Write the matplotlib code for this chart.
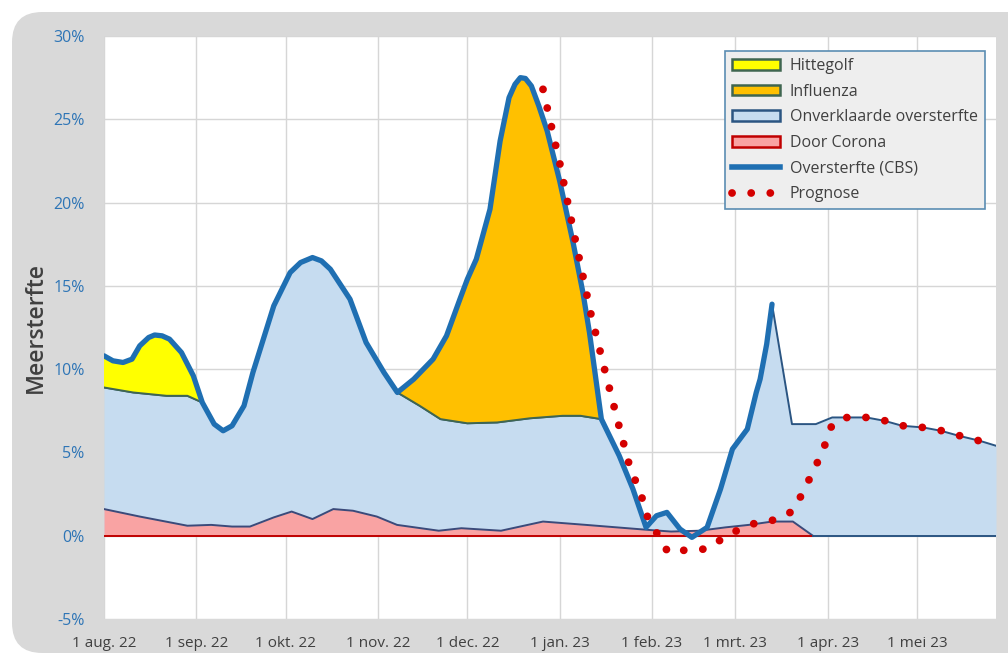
import numpy as np
import pandas as pd
import matplotlib
matplotlib.use("Agg")
import matplotlib.pyplot as plt
from matplotlib.patches import FancyBboxPatch, Patch
from matplotlib.lines import Line2D

plt.rcParams['font.family'] = ['Open Sans', 'DejaVu Sans']

start = pd.Timestamp("2022-08-01")
tick_dates = ["2022-08-01", "2022-09-01", "2022-10-01", "2022-11-01", "2022-12-01",
              "2023-01-01", "2023-02-01", "2023-03-01", "2023-04-01", "2023-05-01"]
tick_labels = ["1 aug. 22", "1 sep. 22", "1 okt. 22", "1 nov. 22", "1 dec. 22",
               "1 jan. 23", "1 feb. 23", "1 mrt. 23", "1 apr. 23", "1 mei 23"]
x_end = 299.5  # days after 1 aug 22 (about 27 mei 23)

# Oversterfte (CBS), days since 1 aug 22 and percent
cbs_days = [0, 3, 6.4, 9.4, 12, 15, 17, 19.5, 22, 26, 30, 33, 37, 40, 43, 47, 50, 53.5, 57,
            62.5, 66, 70, 73, 76, 82.6, 88, 94, 98.5, 104, 110.5, 115, 119.5, 122, 125, 129.6,
            133, 136, 138, 139.8, 141.5, 143.5, 146, 148.8, 153, 157.5, 160.8, 163, 167, 173,
            177.6, 182, 185.5, 189, 193.4, 197.4, 202.5, 207, 211, 216, 219, 220.3, 222.5,
            224.3]
cbs_pct = [10.8, 10.5, 10.4, 10.6, 11.4, 11.9, 12.05, 12.0, 11.8, 11.0, 9.6, 8.0, 6.7, 6.3,
           6.6, 7.8, 9.8, 11.8, 13.8, 15.8, 16.4, 16.7, 16.5, 16.0, 14.2, 11.6, 9.8, 8.6, 9.4,
           10.6, 12.0, 14.2, 15.4, 16.6, 19.6, 23.7, 26.3, 27.1, 27.5, 27.45, 27.0, 25.8, 24.3,
           21.3, 17.6, 14.6, 12.2, 7.0, 4.8, 2.8, 0.5, 1.2, 1.4, 0.4, -0.1, 0.5, 2.8, 5.2, 6.4,
           8.6, 9.4, 11.5, 13.9]

# lower edge of the Hittegolf band
hitte_days = [0, 9.8, 21, 28, 33]
hitte_base = [8.9, 8.6, 8.4, 8.4, 8.0]

# lower edge of the Influenza band
influenza_days = [98.5, 106, 113, 122, 132, 143, 154, 160, 167]
influenza_base = [8.6, 7.8, 7.0, 6.75, 6.8, 7.05, 7.2, 7.2, 7.0]

# unexplained excess after the last CBS week
tail_days = [224.3, 231, 239, 244.5, 249.5, 256, 262, 268, 275, 281, 287, 294, 299.5]
tail_pct = [13.9, 6.7, 6.7, 7.1, 7.1, 7.1, 6.9, 6.6, 6.5, 6.3, 6.0, 5.7, 5.4]

# Door Corona
corona_days = [0, 12, 28, 36, 43, 49, 57, 63, 70, 77, 83.6, 91.6, 98.4, 112.4, 120, 133.3,
               147.4, 161.8, 182.7, 190.4, 200, 208.6, 216.5, 224.3, 231.3, 238]
corona_pct = [1.6, 1.15, 0.6, 0.65, 0.55, 0.55, 1.1, 1.45, 1.0, 1.6, 1.5, 1.15, 0.65, 0.3,
              0.45, 0.3, 0.85, 0.65, 0.35, 0.25, 0.3, 0.5, 0.65, 0.85, 0.85, 0.0]

# Prognose
prog_days = [147.4, 153.1, 158.2, 163.5, 168.2, 172.9, 176.3, 181.0, 182.7, 186.0, 189.4,
             195.8, 202.1, 207.5, 212.9, 219.3, 225.3, 231.0, 234.4, 237.1, 239.8, 242.4,
             244.5, 249.5, 255.9, 262.3, 268.3, 275.0, 281.4, 287.4, 293.8, 299.5]
prog_pct = [26.8, 22.3, 17.8, 13.3, 9.9, 6.6, 4.3, 2.1, 1.0, 0.05, -1.0, -0.85, -0.8, -0.2,
            0.35, 0.8, 0.95, 1.45, 2.5, 3.5, 4.5, 5.6, 6.7, 7.1, 7.1, 6.9, 6.6, 6.5, 6.3, 6.0,
            5.7, 5.4]

c_yellow = "#ffff00"
c_influenza = "#ffc000"
c_unexpl = "#c6dcf0"
c_corona = "#f9a3a3"
c_cbs = "#1f6fb2"
c_prog = "#d40000"
c_band_edge = "#3f6650"
c_area_edge = "#2b5582"

cbs_d = np.array(cbs_days)
cbs_p = np.array(cbs_pct)

fig = plt.figure(figsize=(10.08, 6.55), dpi=100)
fig.patch.set_facecolor("white")
frame = FancyBboxPatch((12 / 1008, 2 / 655), 1.2, 641 / 655,
                       boxstyle="round,pad=0,rounding_size=0.03",
                       transform=fig.transFigure, facecolor="#d9d9d9",
                       edgecolor="none", mutation_aspect=1008 / 655, zorder=-10)
fig.add_artist(frame)

ax = fig.add_axes([104 / 1008, 36 / 655, 892 / 1008, 583 / 655])
ax.set_zorder(1)
ax.set_facecolor("white")
for s in ax.spines.values():
    s.set_visible(False)

# top edge of the unexplained area
in_mid1 = (cbs_d > hitte_days[-1]) & (cbs_d < influenza_days[0])
in_mid2 = (cbs_d > influenza_days[-1]) & (cbs_d < tail_days[0])
top_days = np.concatenate([hitte_days, cbs_d[in_mid1], influenza_days, cbs_d[in_mid2], tail_days])
top_pct = np.concatenate([hitte_base, cbs_p[in_mid1], influenza_base, cbs_p[in_mid2], tail_pct])

ax.fill_between(top_days, 0, top_pct, color=c_unexpl, lw=0, zorder=2)
ax.plot(top_days, top_pct, color=c_area_edge, lw=1.4, zorder=3)

# Hittegolf band
seg = (cbs_d >= hitte_days[0]) & (cbs_d <= hitte_days[-1])
ax.fill(np.concatenate([cbs_d[seg], hitte_days[::-1]]),
        np.concatenate([cbs_p[seg], hitte_base[::-1]]),
        facecolor=c_yellow, edgecolor="none", zorder=3)
ax.plot(hitte_days, hitte_base, color=c_band_edge, lw=1.4, zorder=4)

# Influenza band
seg = (cbs_d >= influenza_days[0]) & (cbs_d <= influenza_days[-1])
ax.fill(np.concatenate([cbs_d[seg], influenza_days[::-1]]),
        np.concatenate([cbs_p[seg], influenza_base[::-1]]),
        facecolor=c_influenza, edgecolor="none", zorder=3)
ax.plot(influenza_days, influenza_base, color=c_band_edge, lw=1.4, zorder=4)

# Door Corona
ax.fill_between(corona_days, 0, corona_pct, color=c_corona, lw=0, zorder=4)
ax.plot(corona_days, corona_pct, color="#3b4a7a", lw=1.4, zorder=5)
ax.plot([0, corona_days[-1]], [0, 0], color="#c00000", lw=1.4, zorder=5)
ax.plot([corona_days[-1], x_end], [0, 0], color=c_area_edge, lw=1.4, zorder=5)

# lines
ax.plot(cbs_d, cbs_p, color=c_cbs, lw=3.8, solid_capstyle="round",
        solid_joinstyle="round", zorder=6)
ax.plot(prog_days, prog_pct, color=c_prog, lw=5.6, linestyle=(0, (0.01, 2.45)),
        dash_capstyle="round", zorder=7)

# axes
tick_pos = [(pd.Timestamp(d) - start).days for d in tick_dates]
ax.set_xlim(0, x_end)
ax.set_ylim(-5, 30)
ax.set_xticks(tick_pos)
ax.set_xticklabels(tick_labels)
ax.set_yticks(np.arange(-5, 31, 5))
ax.set_yticklabels([f"{v}%" for v in range(-5, 31, 5)])
ax.tick_params(axis="x", length=0, pad=12, labelsize=11, labelcolor="#404040")
ax.tick_params(axis="y", length=0, pad=14, labelsize=11.5, labelcolor="#2e75b6")
ax.grid(True, color="#d6d6d6", lw=1.0, zorder=1)
ax.set_axisbelow(True)
ax.set_ylabel("Meersterfte", fontsize=16.5, fontweight="semibold", color="#404040", labelpad=4)

handles = [
    Patch(facecolor=c_yellow, edgecolor=c_band_edge, lw=1.8, label="Hittegolf"),
    Patch(facecolor=c_influenza, edgecolor=c_band_edge, lw=1.8, label="Influenza"),
    Patch(facecolor=c_unexpl, edgecolor=c_area_edge, lw=1.8, label="Onverklaarde oversterfte"),
    Patch(facecolor=c_corona, edgecolor="#c00000", lw=1.8, label="Door Corona"),
    Line2D([], [], color=c_cbs, lw=4, label="Oversterfte (CBS)"),
    Line2D([], [], color=c_prog, lw=5.6, linestyle=(0, (0.01, 2.45)),
           dash_capstyle="round", label="Prognose"),
]
leg = ax.legend(handles=handles, loc="upper right",
                bbox_to_anchor=(985 / 1008, 1 - 51 / 655), bbox_transform=fig.transFigure,
                fontsize=11.5, frameon=True, fancybox=False, framealpha=1,
                facecolor="#eeeeee", edgecolor="#5b8db3", handlelength=3.0,
                handleheight=0.65, labelspacing=0.6, borderpad=0.45, handletextpad=0.6,
                borderaxespad=0)
leg.get_frame().set_linewidth(1.2)
for t in leg.get_texts():
    t.set_color("#404040")
leg.set_zorder(10)

fig.savefig("out.png", dpi=100, facecolor=fig.get_facecolor())
